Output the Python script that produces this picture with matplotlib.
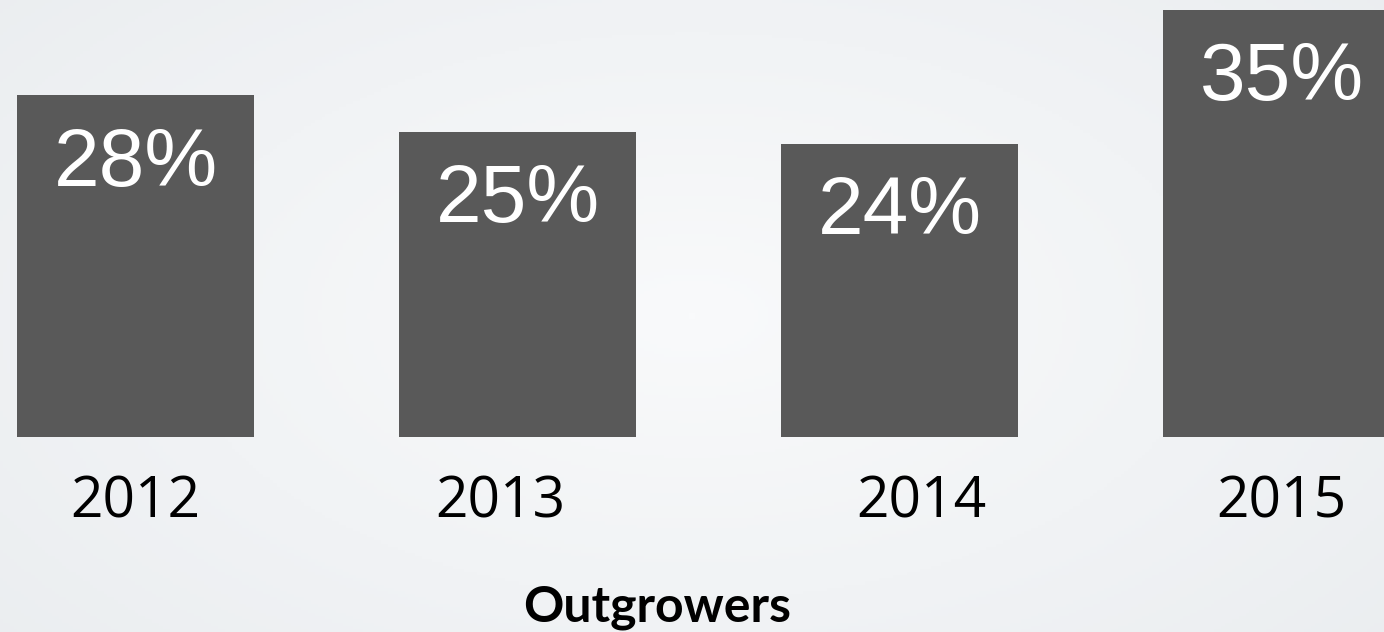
import numpy as np
import matplotlib.pyplot as plt
from matplotlib.colors import LinearSegmentedColormap

years = ['2012', '2013', '2014', '2015']
shares = [28, 25, 24, 35]
labels = ['28%', '25%', '24%', '35%']
title = 'Outgrowers'

W, H, DPI = 1384, 632, 100
fig = plt.figure(figsize=(W / DPI, H / DPI), dpi=DPI)

# soft radial background, near-white centre fading to pale grey
bg = fig.add_axes([0, 0, 1, 1])
yy, xx = np.mgrid[0:1:200j, 0:1:400j]
r = np.sqrt(((xx - 0.5) / 0.75) ** 2 + ((yy - 0.5) / 0.9) ** 2)
cmap = LinearSegmentedColormap.from_list('bgfade', ['#f9fafb', '#e9ecef'])
bg.imshow(np.clip(r, 0, 1), cmap=cmap, vmin=0, vmax=1, aspect='auto',
          extent=[0, 1, 0, 1])
bg.axis('off')

ax = fig.add_axes([0, 0, 1, 1])
ax.patch.set_alpha(0)
spacing = 382.0
px_per = 12.2
x = np.arange(len(years))
ax.set_xlim(-135.5 / spacing, (W - 135.5) / spacing)
ax.set_ylim(-(H - 437) / px_per, 437 / px_per)
ax.axis('off')

bars = ax.bar(x, shares, width=237 / spacing, color='#595959')

for b, lab in zip(bars, labels):
    ax.annotate(lab, (b.get_x() + b.get_width() / 2, b.get_height()),
                xytext=(0, -65), textcoords='offset points',
                ha='center', va='baseline', color='white',
                fontsize=59, family=['Liberation Sans', 'DejaVu Sans'])

year_shift = [0, -17, 22, 0]
for i, yr in enumerate(years):
    ax.annotate(yr, (x[i], 0), xytext=(year_shift[i] * 0.72, -81 * 0.72),
                textcoords='offset points', ha='center', va='baseline',
                fontsize=41, color='black', family=['Open Sans', 'DejaVu Sans'])

fig.text(657 / W, 1 - 621 / H, title, ha='center', va='baseline',
         fontsize=36, fontweight='bold', color='black',
         family=['Lato', 'DejaVu Sans'])

fig.savefig('out.png', dpi=DPI)
